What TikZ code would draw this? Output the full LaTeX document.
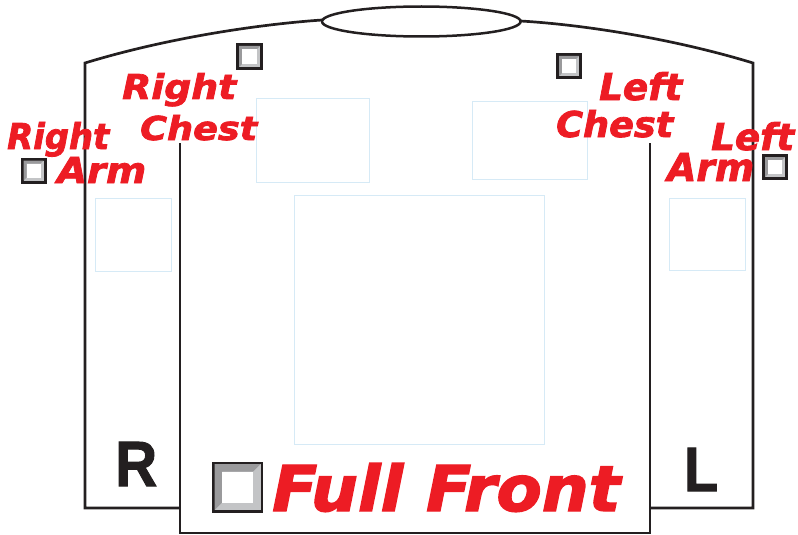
\documentclass[tikz,border=0pt]{standalone}
\usepackage{fontspec}
\newfontfamily\lblfont{DejaVu Sans}[BoldItalicFeatures={FakeBold=2.2}]
\newfontfamily\rlfont{Liberation Sans}[BoldFeatures={FakeBold=1.6}]
\definecolor{labred}{HTML}{ED1C24}
\definecolor{ink}{HTML}{231F20}
\definecolor{area}{HTML}{D6EAF6}
\definecolor{bevdark}{HTML}{9A9A9C}
\definecolor{bevlight}{HTML}{C3C4C6}
\newcommand\redlbl[3]{\resizebox{#1pt}{#2pt}{\lblfont\bfseries\itshape #3}}
\newcommand\sidelbl[3]{\resizebox{#1pt}{#2pt}{\rlfont\bfseries #3}}
\tikzset{
  outline/.style={draw=ink, line width=2.7pt, line join=miter},
  printarea/.style={draw=area, line width=0.9pt},
  redtext/.style={anchor=base west, inner sep=0pt, text=labred},
  sidetext/.style={anchor=base west, inner sep=0pt, text=ink},
  chk/.style n args={3}{minimum size=#1, inner sep=0pt, fill=ink,
    path picture={
      \fill[bevlight] ([shift={(#2,#2)}]path picture bounding box.south west)
        rectangle ([shift={(-#2,-#2)}]path picture bounding box.north east);
      \fill[bevdark] ([shift={(#2,#2)}]path picture bounding box.south west)
        -- ([shift={(#3,#3)}]path picture bounding box.south west)
        -- ([shift={(#3,-#3)}]path picture bounding box.north west)
        -- ([shift={(-#3,-#3)}]path picture bounding box.north east)
        -- ([shift={(-#2,-#2)}]path picture bounding box.north east)
        -- ([shift={(#2,-#2)}]path picture bounding box.north west) -- cycle;
      \fill[white] ([shift={(#3,#3)}]path picture bounding box.south west)
        rectangle ([shift={(-#3,-#3)}]path picture bounding box.north east);
    }}
}
\begin{document}
\begin{tikzpicture}[x=1pt,y=-1pt]
\useasboundingbox (0,0) rectangle (798,535);
% named corner points of the shirt outline
\coordinate (collarL) at (322,20);
\coordinate (collarR) at (520.5,21);
\coordinate (shL) at (85,63);
\coordinate (shR) at (753,63);
\coordinate (slLb) at (85,508);
\coordinate (slLi) at (180,508);
\coordinate (slRb) at (753,508);
\coordinate (slRi) at (650,508);
\coordinate (frLt) at (180,143);
\coordinate (frLb) at (180,533);
\coordinate (frRt) at (650,143);
\coordinate (frRb) at (650,533);
% shirt outline
\draw[outline] (collarL) .. controls (250,25) and (160,40) .. (shL) -- (slLb) -- (slLi);
\draw[outline] (collarR) .. controls (588,25) and (678,40) .. (shR) -- (slRb) -- (slRi);
\draw[outline] (frLt) -- (frLb) -- (frRb) -- (frRt);
\draw[outline, line width=2.5pt] (421.3,21.5) ellipse [x radius=99.3pt, y radius=15pt];
% print areas
\draw[printarea] (256.5,98) rectangle (369,182);
\draw[printarea] (472,101) rectangle (587,179.5);
\draw[printarea] (95,198) rectangle (171,271);
\draw[printarea] (669,198) rectangle (745,270);
\draw[printarea] (294,195) rectangle (544.5,444);
% check boxes
\node[chk={27pt}{3pt}{6pt}] (boxRC) at (249.5,56.5) {};
\node[chk={26pt}{3pt}{6pt}] (boxRA) at (33.5,170.5) {};
\node[chk={26pt}{3pt}{6pt}] (boxLC) at (569,66) {};
\node[chk={26pt}{3pt}{6pt}] (boxLA) at (775,167) {};
\node[chk={51pt}{2.5pt}{10pt}] (boxFF) at (237.5,487) {};
% labels
\node[redtext] (rc1) at (122,99) {\redlbl{114}{26}{Right}};
\node[redtext] (rc2) at (140,140) {\redlbl{117}{25}{Chest}};
\node[redtext] (ra1) at (7,149) {\redlbl{102}{27}{Right}};
\node[redtext] (ra2) at (57,183) {\redlbl{89}{26}{Arm}};
\node[redtext] (lc1) at (599,100) {\redlbl{83}{28}{Left}};
\node[redtext] (lc2) at (556,137) {\redlbl{117}{27}{Chest}};
\node[redtext] (la1) at (711,150) {\redlbl{83}{28}{Left}};
\node[redtext] (la2) at (667,181) {\redlbl{87}{28}{Arm}};
\node[redtext] (ff) at (272,511) {\redlbl{348}{48}{Full Front}};
\node[sidetext] (sideR) at (115,486) {\sidelbl{42}{44}{R}};
\node[sidetext] (sideL) at (684,491) {\sidelbl{34}{43}{L}};
\end{tikzpicture}
\end{document}
